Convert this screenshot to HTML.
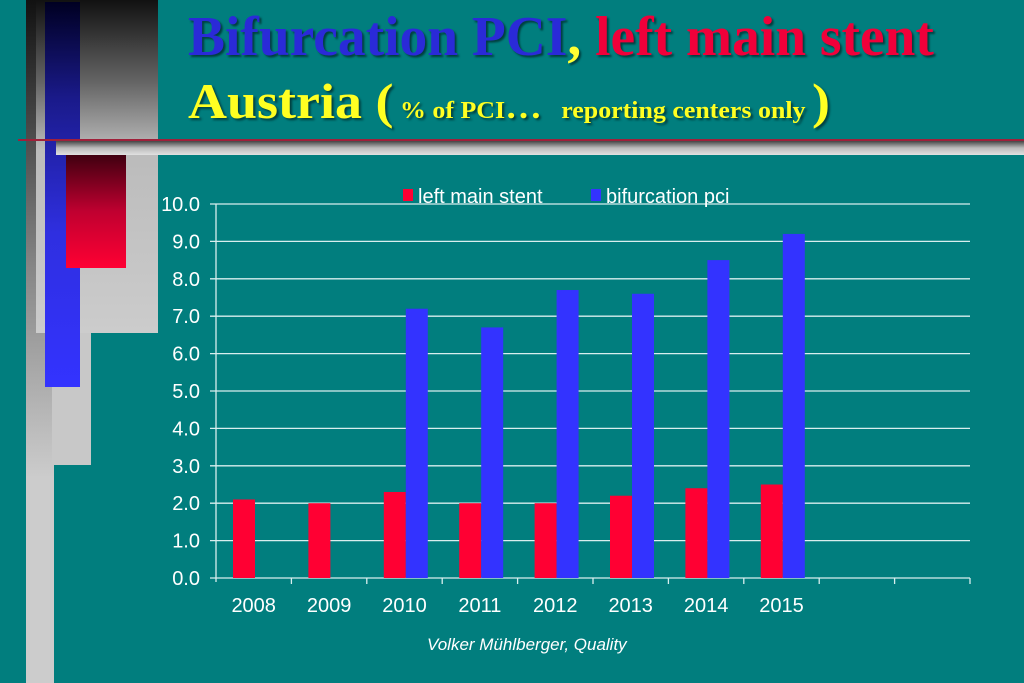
<!DOCTYPE html>
<html><head><meta charset="utf-8"><style>
html,body{margin:0;padding:0;background:#008080;}
#root{position:relative;width:1024px;height:683px;overflow:hidden;background:#017e7e;font-family:"Liberation Sans",sans-serif;}
.abs{position:absolute;}
.t{font-family:"Liberation Serif",serif;font-weight:bold;white-space:nowrap;transform-origin:0 0;text-shadow:2px 2px 2px rgba(0,0,0,0.5);}
</style></head><body>
<div id="root">
  <div class="abs" style="left:26px;top:0;width:28px;height:683px;background:linear-gradient(#111,#888 40%,#ccc 70%,#ccc)"></div>
  <div class="abs" style="left:36px;top:0;width:122px;height:333px;background:linear-gradient(#111,#666 25%,#bbb 45%,#ccc)"></div>
  <div class="abs" style="left:52px;top:333px;width:39px;height:132px;background:#c8c8c8"></div>
  <div class="abs" style="left:45px;top:2px;width:35px;height:385px;background:linear-gradient(#000022,#1a1a8a 25%,#2f2fe0 60%,#3333ff)"></div>
  <div class="abs" style="left:66px;top:155px;width:60px;height:113px;background:linear-gradient(#400010,#c00030 50%,#ff0033)"></div>
  <div class="abs" style="left:18px;top:139px;width:1006px;height:2px;background:#a0203a"></div>
  <div class="abs" style="left:56px;top:141px;width:968px;height:14px;background:linear-gradient(#444,#bbb 50%,#e0e0e0)"></div>

  <div class="abs t" style="left:188px;top:5px;font-size:56px;transform:scaleX(0.99)"><span style="color:#2a2ad8">Bifurcation PCI</span><span style="color:#ffff33">, </span><span style="color:#f0003a">left main stent</span></div>
  <div class="abs t" style="left:188px;top:72px;font-size:50px;color:#ffff22;transform:scaleX(1.08)">Austria <span style="font-size:50px">(</span><span style="font-size:24px"> % of PCI</span><span style="font-size:34px">…</span><span style="font-size:24px">&nbsp;&nbsp; reporting centers only </span><span style="font-size:50px">)</span></div>

  <svg class="abs" style="left:0;top:0" width="1024" height="683" id="chart"></svg>
  <div class="abs" style="left:427px;top:635px;font-size:17px;font-style:italic;color:#fff">Volker Mühlberger, Quality</div>
</div>
<script>
const categories=["2008","2009","2010","2011","2012","2013","2014","2015","",""];
const leftMain=[2.1,2.0,2.3,2.0,2.0,2.2,2.4,2.5,null,null];
const bifurcation=[null,null,7.2,6.7,7.7,7.6,8.5,9.2,null,null];
const yTicks=["0.0","1.0","2.0","3.0","4.0","5.0","6.0","7.0","8.0","9.0","10.0"];
const svg=document.getElementById('chart');
const NS='http://www.w3.org/2000/svg';
const x0=216,x1=970,y0=578,y1=204,ymax=10;
const bw=(x1-x0)/categories.length;
function ys(v){return y0-(v/ymax)*(y0-y1);}
function xs(i){return x0+i*bw;}
function mk(tag,attrs){const e=document.createElementNS(NS,tag);for(const k in attrs)e.setAttribute(k,attrs[k]);svg.appendChild(e);return e;}
yTicks.forEach((t,i)=>{
  const v=parseFloat(t);
  const l=mk('line',{x1:x0-6,x2:x1,y1:ys(v),y2:ys(v),stroke:'#d8eeee','stroke-width':1.3});
  
  
  const tx=mk('text',{x:x0-16,y:ys(v)+7,'text-anchor':'end','font-size':20,fill:'#fff','font-family':'Liberation Sans, sans-serif'});
  tx.textContent=t;
  
  
});
const ax=mk('line',{x1:x0,x2:x0,y1:y1,y2:y0+4,stroke:'#d8eeee','stroke-width':1.3});


categories.forEach((c,i)=>{
  const tk=mk('line',{x1:xs(i+1),x2:xs(i+1),y1:y0,y2:y0+6,stroke:'#d8eeee','stroke-width':1.3});
  
  
  if(c){
    const t=mk('text',{x:xs(i)+bw/2,y:y0+34,'text-anchor':'middle','font-size':20,fill:'#fff','font-family':'Liberation Sans, sans-serif'});
    t.textContent=c;
    
    
  }
  const w=22;
  if(leftMain[i]!=null){
    const r=mk('rect',{x:xs(i)+17,y:ys(leftMain[i]),width:w,height:y0-ys(leftMain[i]),fill:'#ff0033'});
    
    
  }
  if(bifurcation[i]!=null){
    const b=mk('rect',{x:xs(i)+17+w,y:ys(bifurcation[i]),width:w,height:y0-ys(bifurcation[i]),fill:'#3333ff'});
    
    
  }
});
const lg=[["left main stent","#ff0033",403],["bifurcation  pci","#3333ff",591]];
lg.forEach(([t,c,x])=>{
  const r=mk('rect',{x:x,y:189,width:10,height:12,fill:c});
  
  
  const tx=mk('text',{x:x+15,y:203,'font-size':20,fill:'#fff','font-family':'Liberation Sans, sans-serif','xml:space':'preserve'});
  tx.textContent=t;
  
  
});
</script>
</body></html>
